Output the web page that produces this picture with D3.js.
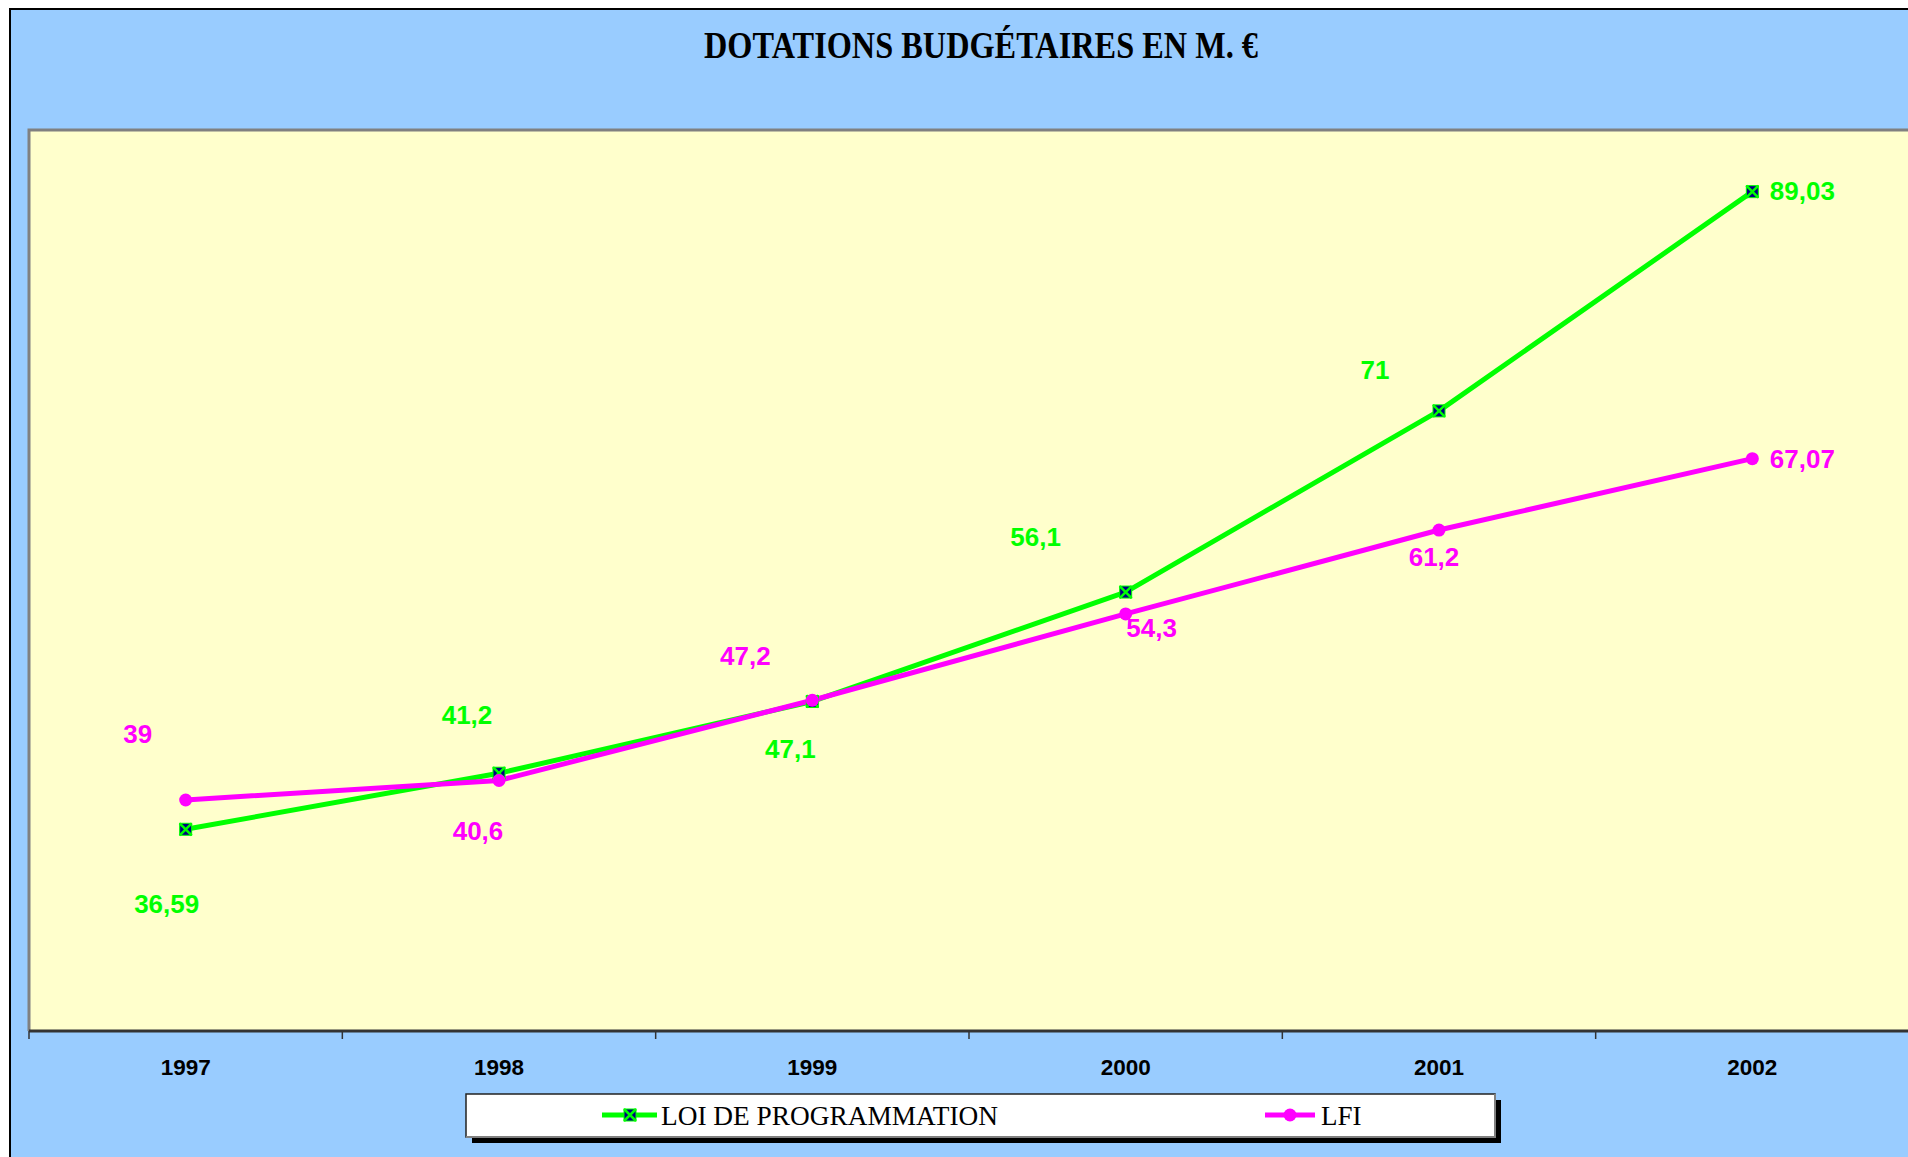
<!DOCTYPE html>
<html>
<head>
<meta charset="utf-8">
<script src="https://cdn.jsdelivr.net/npm/d3@7"></script>
<style>
  body { margin: 0; background: #ffffff; }
  svg { display: block; }
</style>
</head>
<body>
<svg id="viz"></svg>
<script>
// Chart data
const years = ["1997", "1998", "1999", "2000", "2001", "2002"];
const loiProgrammation = [36.59, 41.2, 47.1, 56.1, 71, 89.03];
const lfi = [39, 40.6, 47.2, 54.3, 61.2, 67.07];
const loiLabels = ["36,59", "41,2", "47,1", "56,1", "71", "89,03"];
const lfiLabels = ["39", "40,6", "47,2", "54,3", "61,2", "67,07"];

// where each value label sits relative to its point (px)
const loiOffsets = [[-19, 74], [-32, -59], [-22, 47], [-90, -55], [-64, -41], [50, -1]];
const lfiOffsets = [[-48, -66], [-21, 50], [-67, -45], [26, 14], [-5, 27], [50, 0]];

const width = 1908, height = 1157;
const green = "#00ff00", magenta = "#ff00ff", navy = "#000080";

const svg = d3.select("#viz")
    .attr("width", width)
    .attr("height", height);

// chart area (blue) with its black frame
svg.append("rect")
    .attr("x", 10).attr("y", 9)
    .attr("width", width).attr("height", height)
    .attr("fill", "#99ccff")
    .attr("stroke", "#000").attr("stroke-width", 2);

// plot area
const plot = { left: 29, right: 1909, top: 130, bottom: 1031 };

svg.append("rect")
    .attr("x", plot.left).attr("y", plot.top)
    .attr("width", plot.right - plot.left)
    .attr("height", plot.bottom - plot.top)
    .attr("fill", "#ffffcc");

// gray frame on top and left of the plot area
svg.append("path")
    .attr("d", `M${plot.left},${plot.bottom} V${plot.top} H${width}`)
    .attr("fill", "none")
    .attr("stroke", "#808080")
    .attr("stroke-width", 3);

svg.append("text")
    .attr("x", 981).attr("y", 58)
    .attr("text-anchor", "middle")
    .attr("font-family", "'Liberation Serif', 'Times New Roman', serif")
    .attr("font-weight", "bold")
    .attr("font-size", 37)
    .attr("textLength", 554)
    .attr("lengthAdjust", "spacingAndGlyphs")
    .text("DOTATIONS BUDGÉTAIRES EN M. €");

// scales
const x = d3.scaleBand()
    .domain(years)
    .range([plot.left, plot.right]);

const y = d3.scaleLinear()
    .domain([20, 94.1])
    .range([plot.bottom, plot.top]);

const cx = d => x(d) + x.bandwidth() / 2;

// category axis: labels from d3.axisBottom, tick marks at band edges
const axis = svg.append("g")
    .attr("transform", `translate(0,${plot.bottom})`)
    .call(d3.axisBottom(x).tickSize(0).tickPadding(28));

axis.select(".domain").remove();
axis.selectAll("text")
    .attr("font-family", "'Liberation Sans', Arial, sans-serif")
    .attr("font-weight", "bold")
    .attr("font-size", 22.5)
    .attr("fill", "#000");

svg.append("line")
    .attr("x1", plot.left).attr("x2", width)
    .attr("y1", plot.bottom).attr("y2", plot.bottom)
    .attr("stroke", "#333").attr("stroke-width", 3);

const edges = years.map(d => x(d));
svg.selectAll(".edge-tick")
    .data(edges)
    .enter().append("line")
    .attr("class", "edge-tick")
    .attr("x1", d => d).attr("x2", d => d)
    .attr("y1", plot.bottom).attr("y2", plot.bottom + 8)
    .attr("stroke", "#333").attr("stroke-width", 1.5);

// lines
const line = d3.line()
    .x((d, i) => cx(years[i]))
    .y(d => y(d));

svg.append("path")
    .datum(loiProgrammation)
    .attr("d", line)
    .attr("fill", "none")
    .attr("stroke", green)
    .attr("stroke-width", 5)
    .attr("stroke-linejoin", "round");

svg.append("path")
    .datum(lfi)
    .attr("d", line)
    .attr("fill", "none")
    .attr("stroke", magenta)
    .attr("stroke-width", 5)
    .attr("stroke-linejoin", "round");

// marker helpers
function crossBox(g, px, py) {
    const s = 6;
    g.append("rect")
        .attr("x", px - s).attr("y", py - s)
        .attr("width", 2 * s).attr("height", 2 * s)
        .attr("fill", navy)
        .attr("stroke", green).attr("stroke-width", 1);
    g.append("path")
        .attr("d", `M${px - s},${py - s} L${px + s},${py + s} M${px + s},${py - s} L${px - s},${py + s}`)
        .attr("stroke", green).attr("stroke-width", 2.5);
}

function dot(g, px, py) {
    g.append("circle")
        .attr("cx", px).attr("cy", py)
        .attr("r", 6.5)
        .attr("fill", magenta);
}

const markers = svg.append("g");
loiProgrammation.forEach((v, i) => crossBox(markers, cx(years[i]), y(v)));
lfi.forEach((v, i) => dot(markers, cx(years[i]), y(v)));

// value labels
function addLabels(values, labels, offsets, color) {
    svg.append("g").selectAll("text")
        .data(values)
        .enter().append("text")
        .attr("x", (d, i) => cx(years[i]) + offsets[i][0])
        .attr("y", (d, i) => y(d) + offsets[i][1])
        .attr("dy", "0.36em")
        .attr("text-anchor", "middle")
        .attr("font-family", "'Liberation Sans', Arial, sans-serif")
        .attr("font-weight", "bold")
        .attr("font-size", 26)
        .attr("fill", color)
        .text((d, i) => labels[i]);
}

addLabels(loiProgrammation, loiLabels, loiOffsets, green);
addLabels(lfi, lfiLabels, lfiOffsets, magenta);

// legend
const legend = svg.append("g");

legend.append("rect")
    .attr("x", 472).attr("y", 1100)
    .attr("width", 1029).attr("height", 43)
    .attr("fill", "#000");

legend.append("rect")
    .attr("x", 466).attr("y", 1094)
    .attr("width", 1029).attr("height", 43)
    .attr("fill", "#fff")
    .attr("stroke", "#222").attr("stroke-width", 1.5);

legend.append("path")
    .attr("d", "M466,1137 H1495 V1094")
    .attr("fill", "none")
    .attr("stroke", "#808080").attr("stroke-width", 2);

const legendY = 1115;

legend.append("line")
    .attr("x1", 602).attr("x2", 657)
    .attr("y1", legendY).attr("y2", legendY)
    .attr("stroke", green).attr("stroke-width", 5);
crossBox(legend, 630, legendY);

legend.append("text")
    .attr("x", 661).attr("y", 1125)
    .attr("font-family", "'Liberation Serif', 'Times New Roman', serif")
    .attr("font-size", 27)
    .attr("textLength", 337)
    .attr("lengthAdjust", "spacingAndGlyphs")
    .text("LOI DE PROGRAMMATION");

legend.append("line")
    .attr("x1", 1265).attr("x2", 1315)
    .attr("y1", legendY).attr("y2", legendY)
    .attr("stroke", magenta).attr("stroke-width", 5);
dot(legend, 1290, legendY);

legend.append("text")
    .attr("x", 1321).attr("y", 1125)
    .attr("font-family", "'Liberation Serif', 'Times New Roman', serif")
    .attr("font-size", 27)
    .text("LFI");
</script>
</body>
</html>
